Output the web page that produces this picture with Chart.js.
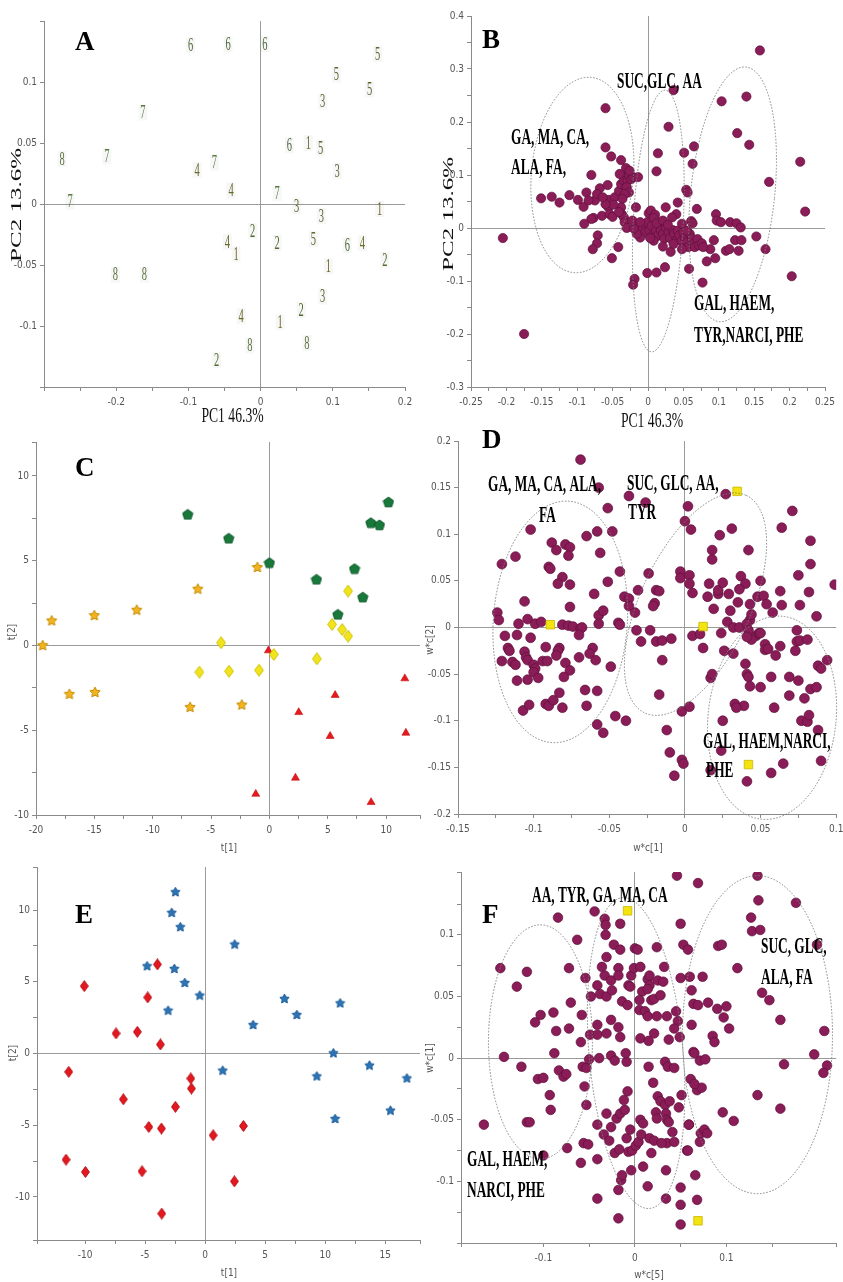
<!DOCTYPE html>
<html><head><meta charset="utf-8">
<script src="https://cdn.jsdelivr.net/npm/chart.js@4.4.1/dist/chart.umd.min.js"></script>
<style>
html,body{margin:0;padding:0;background:#fff;}
#wrap{position:relative;width:843px;height:1282px;overflow:hidden;background:#fff;}
#wrap canvas{position:absolute;left:0;top:0;}
</style></head><body>
<div id="wrap">
<canvas id="cA" width="843" height="1282"></canvas>
<canvas id="cB" width="843" height="1282"></canvas>
<canvas id="cC" width="843" height="1282"></canvas>
<canvas id="cD" width="843" height="1282"></canvas>
<canvas id="cE" width="843" height="1282"></canvas>
<canvas id="cF" width="843" height="1282"></canvas>
</div>
<script>
// ---------------- DATA ----------------
// Panel A: PCA score plot, sample group numbers
const aGroup = [6,6,6,5,5,5,3,7,6,1,5,8,7,4,7,3,4,7,7,3,1,3,2,2,4,5,1,6,4,2,1,8,8,3,2,4,1,8,8,2];
const aPC1 = [-0.097,-0.045,0.006,0.162,0.105,0.151,0.086,-0.163,0.040,0.066,0.083,-0.275,-0.213,-0.088,-0.064,0.106,-0.041,0.023,-0.264,0.050,0.165,0.084,-0.011,0.023,-0.046,0.073,-0.034,0.120,0.141,0.172,0.094,-0.201,-0.161,0.086,0.056,-0.027,0.027,-0.015,0.064,-0.061];
const aPC2 = [0.130,0.131,0.131,0.123,0.106,0.094,0.084,0.075,0.048,0.050,0.046,0.037,0.039,0.028,0.034,0.027,0.011,0.009,0.002,-0.002,-0.004,-0.010,-0.022,-0.032,-0.031,-0.029,-0.041,-0.034,-0.032,-0.046,-0.051,-0.058,-0.058,-0.076,-0.087,-0.092,-0.097,-0.116,-0.114,-0.128];

// Panel B: PCA loadings
const bPC1 = [0.158,0.036,-0.060,0.104,0.139,0.126,0.143,0.029,0.215,0.171,
0.222,0.203,-0.205,-0.175,0.065,0.051,0.063,0.014,0.012,-0.060,
-0.052,-0.038,-0.080,-0.151,-0.136,-0.125,-0.111,-0.099,-0.091,-0.087,
-0.075,-0.077,-0.080,-0.090,-0.068,-0.057,-0.056,-0.065,-0.056,-0.054,
-0.050,-0.047,-0.041,-0.038,-0.035,-0.031,-0.034,-0.029,-0.027,-0.024,
-0.021,-0.014,-0.030,-0.027,-0.033,-0.036,-0.038,-0.037,-0.034,-0.033,
-0.030,-0.017,-0.042,-0.051,-0.071,-0.072,-0.078,-0.019,-0.021,-0.001,
0.012,0.024,0.025,0.042,0.040,0.054,0.056,0.069,0.001,0.004,
0.010,0.034,0.061,0.063,0.096,0.097,0.103,0.116,0.125,0.131,
0.093,0.088,0.095,0.083,0.077,0.058,0.110,0.115,0.123,0.128,
0.132,0.153,0.166,
-0.014,-0.010,-0.008,-0.004,-0.001,0.002,0.005,0.008,0.011,0.013,
0.016,0.018,0.021,0.023,0.025,0.029,0.031,0.032,0.035,0.037,
0.040,0.042,0.044,0.047,0.050,0.052,0.055,0.057,0.059,0.062,
0.064,0.066,0.070,0.072,0.076,0.078,0.021,0.008,0.003,-0.011,
-0.016,-0.020,-0.022,-0.011,0.008,0.012,0.021,0.028,0.048,0.055,
0.036,0.048,
-0.040,-0.026,-0.041,-0.049,-0.060,-0.072,-0.084,-0.064];
const bPC2 = [0.335,0.260,0.226,0.239,0.248,0.179,0.157,0.191,0.125,0.087,
0.031,-0.091,-0.019,-0.200,0.154,0.142,0.121,0.141,0.107,0.152,
0.135,0.128,0.100,0.056,0.059,0.048,0.062,0.053,0.040,0.067,
0.052,0.019,0.017,0.008,0.075,0.081,0.053,0.023,0.039,0.026,
0.021,0.058,0.070,0.083,0.099,0.113,0.089,0.089,0.099,0.092,
0.096,0.096,0.077,0.067,0.064,0.055,0.039,0.026,0.020,0.011,
0.000,0.039,-0.036,-0.057,-0.014,-0.029,-0.040,-0.096,-0.107,-0.085,
-0.084,-0.074,0.039,0.048,0.026,0.072,0.067,0.036,0.028,0.033,
0.025,0.020,0.013,0.009,0.026,0.014,0.011,0.011,0.009,0.001,
-0.023,-0.040,-0.057,-0.063,-0.103,-0.077,-0.043,-0.040,-0.023,-0.043,
-0.023,-0.016,-0.040,
-0.001,-0.005,0.001,-0.008,0.011,-0.004,0.004,-0.011,-0.005,-0.015,
0.006,-0.004,-0.011,-0.020,0.001,-0.008,-0.019,-0.045,-0.004,-0.011,
-0.023,-0.005,-0.014,-0.025,-0.008,-0.018,-0.027,-0.036,-0.011,-0.020,
-0.030,-0.036,-0.021,-0.033,-0.029,-0.036,-0.035,-0.024,-0.019,-0.018,
-0.011,-0.001,0.014,0.011,0.019,0.009,0.014,0.006,0.008,-0.005,
-0.030,-0.040,
0.102,0.108,0.030,0.044,0.045,0.064,0.052,0.058];

// Panel C: scores t[1], t[2] for four groups
const cPentX = [-7.0,-3.49,0.0,4.03,7.29,8.0,5.86,8.69,9.43,10.2];
const cPentY = [7.73,6.32,4.88,3.90,4.53,2.85,1.83,7.24,7.11,8.46];
const cStarX = [-19.43,-18.66,-15.0,-11.37,-6.14,-1.03,-17.14,-14.94,-6.8,-2.37];
const cStarY = [0.02,1.48,1.79,2.11,3.35,4.63,-2.85,-2.74,-3.62,-3.48];
const cDiaX = [-4.14,-6.0,-3.46,-0.89,0.37,4.06,5.37,6.23,6.74,6.74];
const cDiaY = [0.16,-1.57,-1.52,-1.46,-0.53,-0.79,1.24,0.94,0.55,3.21];
const cTriX = [-0.09,2.51,5.63,11.6,5.2,11.69,2.23,-1.17,8.71];
const cTriY = [-0.3,-3.94,-2.93,-1.95,-5.35,-5.16,-7.81,-8.76,-9.25];

// Panel D: loadings w*c[1], w*c[2]
const dX = [-0.069,-0.057,-0.051,-0.048,-0.037,-0.026,-0.102,-0.112,-0.121,-0.065,
-0.058,-0.088,-0.085,-0.079,-0.076,-0.077,-0.090,-0.089,-0.056,-0.081,
-0.084,-0.076,-0.043,-0.051,-0.060,-0.076,-0.124,-0.123,-0.106,-0.104,
-0.110,-0.099,-0.095,-0.081,-0.077,-0.074,-0.069,-0.068,-0.070,-0.057,
-0.054,-0.057,-0.044,-0.043,-0.040,-0.037,-0.037,-0.119,-0.111,-0.102,
-0.117,-0.116,-0.092,-0.083,-0.084,-0.061,-0.063,-0.070,-0.121,-0.114,
-0.112,-0.106,-0.105,-0.104,-0.100,-0.099,-0.100,-0.097,-0.094,-0.091,
-0.085,-0.079,-0.076,-0.059,-0.049,-0.111,-0.104,-0.080,-0.066,-0.058,
-0.092,-0.090,-0.087,-0.083,-0.081,-0.107,-0.103,-0.065,-0.058,-0.054,
-0.046,-0.039,
-0.033,-0.031,-0.024,-0.019,-0.020,-0.021,-0.017,-0.023,-0.032,-0.029,
-0.019,-0.015,-0.009,-0.015,-0.017,-0.012,-0.010,-0.007,-0.002,-0.001,
-0.002,0.003,-0.003,-0.003,0.003,0.003,0.005,0.000,0.002,0.004,
0.018,0.018,0.023,0.027,0.031,0.037,0.040,0.036,0.016,0.015,
0.019,0.022,0.022,0.025,0.029,0.030,0.035,0.028,0.032,0.036,
0.024,0.032,0.026,0.012,0.005,0.010,0.017,0.018,0.042,0.043,
0.043,0.044,0.050,0.048,0.052,0.054,0.058,0.063,0.064,
0.071,0.064,0.083,0.075,0.083,0.082,0.076,0.087,0.099,0.074,
0.074,0.076,0.073,0.081,0.063,0.060,0.053,0.053,0.047,0.049,
0.041,0.042,0.044,0.041,0.055,0.050,0.069,0.075,0.069,0.079,
0.083,0.087,0.088,0.090,0.094,0.077,0.081,0.082,0.088,0.050,
0.057,0.041,0.042,0.040,0.043,0.039,0.033,0.034,0.025,0.024,
0.017,0.057,0.065,0.090,0.041,0.059];
const dY = [0.180,0.150,0.128,0.103,0.141,0.134,0.105,0.076,0.068,0.098,
0.103,0.091,0.083,0.089,0.086,0.077,0.065,0.063,0.080,0.054,
0.047,0.046,0.060,0.049,0.036,0.022,0.016,0.008,0.028,0.009,
0.004,0.004,0.006,0.003,0.002,0.001,-0.001,0.000,-0.008,0.013,
0.018,0.004,0.005,0.003,0.033,0.031,0.023,-0.009,-0.008,-0.011,
-0.022,-0.025,-0.021,-0.022,-0.025,-0.022,-0.028,-0.032,-0.036,-0.037,
-0.040,-0.026,-0.032,-0.035,-0.040,-0.044,-0.048,-0.054,-0.036,-0.036,
-0.030,-0.038,-0.046,-0.035,-0.042,-0.057,-0.056,-0.053,-0.067,-0.068,
-0.082,-0.084,-0.078,-0.070,-0.086,-0.089,-0.083,-0.084,-0.104,-0.113,
-0.095,-0.100,
0.016,0.040,0.058,0.040,0.026,0.023,0.039,-0.003,-0.003,-0.015,
-0.015,-0.014,-0.012,-0.035,-0.072,-0.110,-0.134,-0.159,-0.142,-0.146,
-0.090,-0.085,0.060,0.053,0.056,0.047,0.037,0.114,0.130,0.105,
0.083,0.073,0.099,0.143,0.106,0.055,0.047,0.041,0.047,0.033,
0.020,0.036,0.040,0.048,0.036,0.018,0.027,0.006,0.000,0.000,
-0.006,-0.028,-0.025,-0.022,-0.009,-0.007,-0.054,-0.050,0.083,0.025,
0.008,0.014,0.050,0.033,0.034,0.025,0.016,0.039,0.024,
0.125,0.107,0.093,0.056,0.068,0.038,0.024,0.012,0.046,-0.003,
-0.015,-0.014,-0.025,-0.013,-0.020,-0.030,-0.018,-0.024,-0.009,-0.006,
0.004,-0.003,-0.013,-0.010,-0.023,-0.006,-0.053,-0.057,-0.073,-0.076,
-0.066,-0.064,-0.041,-0.044,-0.035,-0.100,-0.101,-0.094,-0.110,-0.064,
-0.053,-0.050,-0.053,-0.039,-0.063,-0.084,-0.082,-0.086,-0.100,-0.132,
-0.153,-0.156,-0.146,-0.143,-0.165,-0.086];
const dSqX = [-0.089,0.012,0.0345,0.042];
const dSqY = [0.003,0.001,0.146,-0.147];

// Panel E: scores t[1], t[2] for two groups
const eStarX = [-2.47,-2.78,-2.06,2.47,-4.83,-2.56,-1.69,-0.44,-3.08,6.61,7.64,4.0,11.25,10.69,1.47,9.31,13.69,16.81,10.83,15.44];
const eStarY = [11.28,9.84,8.84,7.63,6.12,5.93,4.95,4.07,3.02,3.84,2.72,2.02,3.53,0.05,-1.16,-1.56,-0.81,-1.70,-4.53,-3.95];
const eDiaX = [-3.97,-10.06,-4.78,-7.42,-5.64,-3.72,-11.36,-1.19,-1.14,-6.81,-2.47,-4.69,-3.64,0.67,3.19,-11.58,-9.97,-5.25,2.44,-3.61];
const eDiaY = [6.21,4.7,3.91,1.4,1.51,0.63,-1.28,-1.74,-2.44,-3.19,-3.72,-5.12,-5.23,-5.7,-5.05,-7.4,-8.26,-8.21,-8.91,-11.16];

// Panel F: loadings w*c[5], w*c[1]
const fX = [0.046,0.069,0.134,0.135,0.176,0.127,0.128,0.137,0.199,0.091,
0.095,0.112,0.139,0.147,0.159,0.207,0.196,0.210,0.163,0.206,
0.134,0.159,0.096,0.108,0.074,0.080,0.090,0.100,0.097,0.103,
0.085,0.087,0.060,0.050,0.062,0.064,0.069,0.062,0.064,0.071,
0.077,0.061,0.068,0.073,0.059,0.072,0.076,0.079,0.071,0.057,
0.066,0.068,0.050,0.050,0.050,0.034,0.014,-0.018,-0.041,-0.018,
-0.015,-0.014,-0.004,0.009,0.018,0.034,-0.041,-0.059,-0.041,-0.056,
-0.051,-0.074,-0.100,-0.165,-0.118,-0.115,-0.092,-0.093,-0.106,-0.100,
-0.083,-0.078,-0.075,-0.088,-0.124,-0.143,-0.086,-0.089,-0.103,-0.109,
-0.072,-0.070,-0.072,-0.118,-0.129,-0.147,-0.084,-0.063,-0.059,-0.058,
-0.057,-0.053,-0.055,-0.053,-0.054,-0.048,-0.049,-0.050,-0.044,-0.039,
-0.041,-0.041,-0.033,-0.032,-0.032,-0.016,-0.023,-0.016,-0.031,-0.036,
-0.033,-0.026,-0.041,-0.038,-0.031,-0.025,-0.018,-0.018,-0.004,-0.001,
0.000,0.003,0.006,-0.007,-0.005,0.008,0.014,0.016,0.016,0.025,
0.024,0.032,0.031,0.018,0.021,0.028,0.014,-0.014,-0.008,0.005,
0.005,0.011,0.014,0.024,-0.026,-0.031,-0.018,-0.016,0.006,0.021,
0.035,0.045,0.047,0.043,0.049,0.037,0.015,-0.026,-0.022,-0.009,
-0.010,0.015,0.033,0.036,0.065,-0.034,-0.028,-0.026,-0.031,-0.020,
-0.016,-0.011,-0.012,-0.008,-0.022,-0.017,-0.009,-0.007,-0.003,-0.005,
0.001,0.004,0.007,0.006,0.009,0.016,0.021,0.020,0.025,0.028,
0.033,0.023,0.024,0.034,0.035,0.038,0.037,0.041,0.035,0.029,
0.043,0.048,0.051,0.058,0.059,0.065,0.050,0.053,0.058,0.043];
const fY = [0.148,0.142,0.148,0.128,0.126,0.114,0.103,0.104,0.092,0.091,
0.092,0.073,0.053,0.047,0.031,0.022,0.003,-0.006,-0.005,-0.012,
-0.030,-0.041,-0.044,-0.051,0.066,0.045,0.040,0.042,0.033,0.024,
0.018,0.013,0.066,0.065,0.055,0.044,0.043,0.027,0.005,-0.002,
-0.001,-0.017,-0.026,-0.024,-0.054,-0.061,-0.058,-0.061,-0.068,-0.075,
-0.095,-0.115,-0.105,-0.119,-0.135,-0.114,-0.104,-0.130,-0.114,-0.107,
-0.099,-0.095,-0.091,-0.088,-0.077,-0.091,-0.082,-0.085,-0.054,-0.069,
-0.070,-0.073,-0.079,-0.054,-0.052,-0.052,-0.042,-0.030,-0.017,-0.016,
-0.010,-0.015,-0.013,0.004,-0.007,0.001,0.022,0.037,0.035,0.029,
0.024,0.045,0.073,0.070,0.058,0.073,0.114,0.096,0.013,0.035,
-0.007,-0.008,-0.023,-0.038,0.065,0.050,0.019,-0.001,0.119,0.000,
0.019,0.027,0.113,0.108,0.100,0.109,0.092,0.088,0.082,0.074,
0.067,0.063,0.059,0.052,0.050,0.055,0.073,0.067,0.067,0.073,
0.089,0.088,0.074,0.059,0.058,0.054,0.064,0.067,0.059,0.063,
0.090,0.074,0.062,0.047,0.048,0.051,0.056,0.046,0.043,0.047,
0.039,0.038,0.034,0.034,0.031,0.020,0.025,0.017,0.016,0.020,
0.034,0.038,0.030,0.024,0.017,0.015,0.014,0.002,-0.002,-0.003,
0.004,-0.007,-0.003,-0.007,0.004,-0.062,-0.067,-0.056,-0.045,-0.049,
-0.045,-0.042,-0.034,-0.027,-0.077,-0.074,-0.065,-0.076,-0.075,-0.058,
-0.071,-0.068,-0.062,-0.050,-0.053,-0.065,-0.067,-0.020,-0.031,-0.035,
-0.038,-0.044,-0.049,-0.045,-0.050,-0.035,-0.052,-0.060,-0.069,-0.069,
-0.068,-0.040,-0.030,-0.075,-0.054,-0.021,0.109,0.092,0.088,-0.008];
const fSqX = [-0.008,0.069];
const fSqY = [0.1195,-0.132];

// ---------------- STYLE / HELPERS ----------------
const TICK_FONT = '"Liberation Sans Narrow","DejaVu Sans Condensed","Liberation Sans",sans-serif';
const SERIF = '"Liberation Serif","Times New Roman",serif';
const PURPLE = '#8a1d57', PURPLE_EDGE = '#5f0f3b';
const GROUP_COLORS = {1:'#6d6a2c',2:'#4f6b2a',3:'#5d6b33',4:'#696a29',5:'#5a6a30',6:'#4d6b3e',7:'#567a3f',8:'#5b7440'};

const pts = (xs, ys) => xs.map((x, i) => ({x, y: ys[i]}));

function shape(kind, w, h, fill, stroke) {
  const c = document.createElement('canvas');
  c.width = w; c.height = h;
  const g = c.getContext('2d');
  const cx = w / 2, cy = h / 2;
  g.beginPath();
  if (kind === 'star') {
    const R = Math.min(w, h) / 2 - 0.6, r = R * 0.5;
    for (let i = 0; i < 10; i++) {
      const rad = i % 2 ? r : R;
      const a = -Math.PI / 2 + i * Math.PI / 5;
      const px = cx + rad * Math.cos(a), py = cy + R * 0.1 + rad * Math.sin(a);
      i ? g.lineTo(px, py) : g.moveTo(px, py);
    }
  } else if (kind === 'pent') {
    const R = Math.min(w, h) / 2 - 0.6;
    for (let i = 0; i < 5; i++) {
      const a = -Math.PI / 2 + i * 2 * Math.PI / 5;
      const px = cx + R * Math.cos(a), py = cy + R * 0.08 + R * Math.sin(a);
      i ? g.lineTo(px, py) : g.moveTo(px, py);
    }
  } else if (kind === 'diamond') {
    g.moveTo(cx, 0.6); g.lineTo(w - 0.6, cy); g.lineTo(cx, h - 0.6); g.lineTo(0.6, cy);
  }
  g.closePath();
  g.fillStyle = fill; g.fill();
  g.lineWidth = 1; g.strokeStyle = stroke; g.stroke();
  return c;
}

const decoMap = {};
const decoPlugin = {
  id: 'deco',
  afterDatasetsDraw(chart) {
    const d = decoMap[chart.canvas.id]; if (!d) return;
    const ctx = chart.ctx, xs = chart.scales.x, ys = chart.scales.y;
    if (d.digits) {
      const meta = chart.getDatasetMeta(0);
      meta.data.forEach((pt, i) => {
        const g = d.digits[i];
        ctx.save();
        ctx.translate(pt.x, pt.y);
        ctx.fillStyle = 'rgba(0,0,0,0.03)';
        ctx.fillRect(-4.5, -8, 9, 16);
        ctx.scale(0.58, 1);
        ctx.font = '18px ' + SERIF;
        ctx.textAlign = 'center'; ctx.textBaseline = 'middle';
        ctx.fillStyle = GROUP_COLORS[g];
        ctx.fillText(String(g), 0, 1);
        ctx.restore();
      });
    }
    (d.ellipses || []).forEach(e => {
      ctx.save();
      ctx.beginPath();
      ctx.ellipse(xs.getPixelForValue(e.cx), ys.getPixelForValue(e.cy), e.rx, e.ry, e.rot * Math.PI / 180, 0, Math.PI * 2);
      ctx.setLineDash([1.6, 1.6]);
      ctx.lineWidth = 0.9; ctx.strokeStyle = '#7d7d7d';
      ctx.stroke();
      ctx.restore();
    });
  },
  afterDraw(chart) {
    const d = decoMap[chart.canvas.id]; if (!d) return;
    const ctx = chart.ctx;
    (d.texts || []).forEach(t => {
      ctx.save();
      ctx.translate(t.x, t.y);
      if (t.rot) ctx.rotate(t.rot * Math.PI / 180);
      ctx.scale(t.sx || 1, t.sy || 1);
      ctx.font = t.font;
      ctx.fillStyle = t.color || '#000';
      ctx.textAlign = t.align || 'left';
      ctx.textBaseline = t.base || 'alphabetic';
      ctx.fillText(t.t, 0, 0);
      ctx.restore();
    });
  }
};
Chart.register(decoPlugin);

const letter = (t, x, y) => ({t, x, y, font: 'bold 27px ' + SERIF});
const ann = (t, x, y) => ({t, x, y, font: 'bold 23px ' + SERIF, sx: 0.58});
const bigY = (t, x, y) => ({t, x, y, rot: -90, font: '25px ' + SERIF, sy: 0.6, align: 'center', base: 'middle', color: '#111'});
const bigX = (t, x, y) => ({t, x, y, font: '21px ' + SERIF, sx: 0.65, align: 'center', base: 'middle', color: '#111'});
const smY = (t, x, y) => ({t, x, y, rot: -90, font: '10px ' + TICK_FONT, color: '#555', align: 'center', base: 'middle'});
const smX = (t, x, y) => ({t, x, y, font: '10px ' + TICK_FONT, color: '#555', align: 'center', base: 'middle'});

function fmt(labelStep, skip) {
  return v => {
    const q = v / labelStep;
    if (Math.abs(q - Math.round(q)) > 1e-6) return '';
    if ((skip || []).some(s => Math.abs(s - v) < 1e-9)) return '';
    return String(+v.toFixed(3));
  };
}

function axis(r, isX, size) {
  return {
    type: 'linear', min: r.min, max: r.max,
    ticks: {
      stepSize: r.step, autoSkip: false, maxRotation: 0, minRotation: 0, includeBounds: true,
      padding: isX ? 5 : 3, color: '#555', font: {family: TICK_FONT, size: 10},
      callback: fmt(r.label, r.skip)
    },
    grid: {
      color: c => (c.tick && Math.abs(c.tick.value) < 1e-9) ? '#9a9a9a' : 'rgba(0,0,0,0)',
      tickColor: '#8a8a8a', tickLength: 4, lineWidth: 1
    },
    border: {display: true, color: '#8a8a8a', width: 1},
    afterFit: s => {
      if (isX) s.height = size; else s.width = size;
      s.paddingLeft = 0; s.paddingRight = 0; s.paddingTop = 0; s.paddingBottom = 0;
    }
  };
}

function build(id, area, xr, yr, datasets, deco) {
  decoMap[id] = deco;
  const WY = 30, HX = 26;
  new Chart(document.getElementById(id), {
    type: 'scatter',
    data: {datasets},
    options: {
      responsive: false, animation: false, events: [],
      layout: {padding: {left: area.l - WY, right: 843 - area.r, top: area.t, bottom: 1282 - area.b - HX}},
      plugins: {legend: {display: false}, tooltip: {enabled: false}},
      scales: {x: axis(xr, true, HX), y: axis(yr, false, WY)}
    }
  });
}

const dots = (data, r) => ({data, pointRadius: r, pointBackgroundColor: PURPLE, pointBorderColor: PURPLE_EDGE, pointBorderWidth: 0.7});
const squares = (data) => ({data, pointStyle: 'rect', pointRadius: 6, pointBackgroundColor: '#f3e40f', pointBorderColor: '#c9b500', pointBorderWidth: 0.8});
const custom = (data, img) => ({data, pointStyle: img, pointRadius: 5});

// ---------------- PANELS ----------------
// A
build('cA', {l: 44, r: 405, t: 21, b: 387},
  {min: -0.3, max: 0.2, step: 0.05, label: 0.1, skip: [-0.3]},
  {min: -0.15, max: 0.15, step: 0.05, label: 0.05, skip: [-0.15, 0.15]},
  [{data: pts(aPC1, aPC2), pointRadius: 0}],
  {digits: aGroup, texts: [letter('A', 75, 50), bigY('PC2 13.6%', 17.5, 205), bigX('PC1 46.3%', 232.5, 416)]});

// B
build('cB', {l: 471, r: 825, t: 16, b: 387},
  {min: -0.25, max: 0.25, step: 0.025, label: 0.05},
  {min: -0.3, max: 0.4, step: 0.05, label: 0.1},
  [dots(pts(bPC1, bPC2), 4.6)],
  {ellipses: [
     {cx: -0.0927, cy: 0.100, rx: 51, ry: 98, rot: 5},
     {cx: 0.0146, cy: 0.0132, rx: 25, ry: 131, rot: 3},
     {cx: 0.1195, cy: 0.0635, rx: 42, ry: 128, rot: 6}],
   texts: [letter('B', 482, 48), ann('SUC,GLC, AA', 617, 88), ann('GA, MA, CA,', 511, 144), ann('ALA, FA,', 511, 174),
     ann('GAL, HAEM,', 694, 310), ann('TYR,NARCI, PHE', 694, 342),
     bigY('PC2 13.6%', 449, 214), bigX('PC1 46.3%', 652, 421)]});

// C
const pentC = shape('pent', 12, 12, '#18793b', '#0e5a2b');
const starC = shape('star', 12, 12, '#f1b41d', '#c58b05');
const diaC = shape('diamond', 10, 13, '#f2e41c', '#cfc000');
build('cC', {l: 36, r: 420, t: 442, b: 815},
  {min: -20, max: 12.9, step: 2.5, label: 5},
  {min: -10, max: 12, step: 2.5, label: 5},
  [custom(pts(cPentX, cPentY), pentC), custom(pts(cStarX, cStarY), starC), custom(pts(cDiaX, cDiaY), diaC),
   {data: pts(cTriX, cTriY), pointStyle: 'triangle', pointRadius: 4.6, pointBackgroundColor: '#e41a1c', pointBorderColor: '#c41015', pointBorderWidth: 0.6}],
  {texts: [letter('C', 75, 476), smY('t[2]', 12, 632), smX('t[1]', 229, 848)]});

// D
build('cD', {l: 458, r: 837, t: 441, b: 814},
  {min: -0.15, max: 0.1, step: 0.025, label: 0.05},
  {min: -0.2, max: 0.2, step: 0.05, label: 0.05},
  [squares(pts(dSqX, dSqY)), dots(pts(dX, dY), 4.9)],
  {ellipses: [
     {cx: -0.0824, cy: 0.006, rx: 67, ry: 121, rot: 4},
     {cx: 0.007, cy: 0.025, rx: 120, ry: 55, rot: -65},
     {cx: 0.0576, cy: -0.0968, rx: 64, ry: 102, rot: 6}],
   texts: [letter('D', 482, 448), ann('GA, MA, CA, ALA,', 488, 491), ann('FA', 539, 522),
     ann('SUC, GLC, AA,', 627, 490), ann('TYR', 628, 519),
     ann('GAL, HAEM,NARCI,', 703, 748), ann('PHE', 706, 777),
     smY('w*c[2]', 430, 640), smX('w*c[1]', 648, 848)]});

// E
const starE = shape('star', 11, 11, '#2d74b5', '#1c5c98');
const diaE = shape('diamond', 9, 12, '#e5171f', '#b50d14');
build('cE', {l: 37, r: 420, t: 867, b: 1240},
  {min: -14, max: 17.9, step: 2.5, label: 5},
  {min: -13, max: 13, step: 2.5, label: 5},
  [custom(pts(eStarX, eStarY), starE), custom(pts(eDiaX, eDiaY), diaE)],
  {texts: [letter('E', 75, 923), smY('t[2]', 13, 1053), smX('t[1]', 229, 1273)]});

// F
build('cF', {l: 461, r: 843, t: 872, b: 1243},
  {min: -0.19, max: 0.22, step: 0.05, label: 0.1},
  {min: -0.15, max: 0.151, step: 0.025, label: 0.05, skip: [-0.15]},
  [squares(pts(fSqX, fSqY)), dots(pts(fX, fY), 4.8)],
  {ellipses: [
     {cx: -0.1032, cy: 0.0132, rx: 52, ry: 117, rot: 0},
     {cx: 0.0013, cy: 0.0041, rx: 47, ry: 156, rot: -5},
     {cx: 0.134, cy: 0.019, rx: 75, ry: 159, rot: 0}],
   texts: [letter('F', 482, 923), ann('AA, TYR, GA, MA, CA', 532, 902), ann('SUC, GLC,', 761, 953), ann('ALA, FA', 761, 984),
     ann('GAL, HAEM,', 467, 1166), ann('NARCI, PHE', 467, 1197),
     smY('w*c[1]', 430, 1058), smX('w*c[5]', 649, 1275)]});
</script>
</body></html>
